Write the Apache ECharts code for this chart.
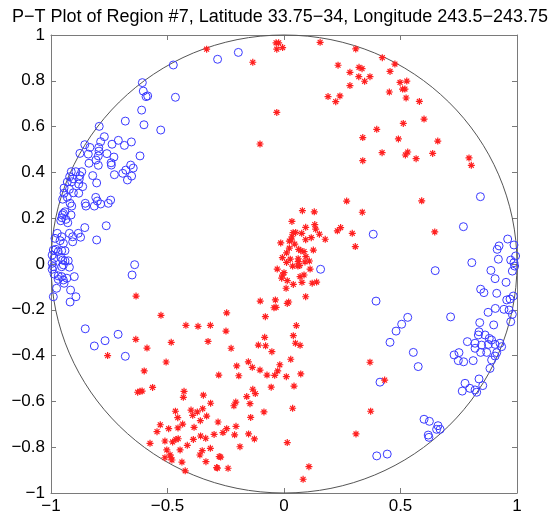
<!DOCTYPE html>
<html><head><meta charset="utf-8">
<script src="https://cdn.jsdelivr.net/npm/echarts@6/dist/echarts.min.js"></script>
<style>html,body{margin:0;padding:0;background:#fff}#c{width:560px;height:518px}</style>
</head><body><div id="c"></div>
<script>
const titleText = 'P\u2212T Plot of Region #7, Latitude 33.75\u221234, Longitude 243.5\u2212243.75';
const xTicks = [-1, -0.5, 0, 0.5, 1];
const yTicks = [-1, -0.8, -0.6, -0.4, -0.2, 0, 0.2, 0.4, 0.6, 0.8, 1];
const unitCircle = [[0, 0, 1]];

const pAxes = [
[-0.475,0.869],[-0.285,0.894],[-0.196,0.924],[-0.608,0.792],[-0.604,0.755],[-0.592,0.731],[-0.585,0.734],[-0.466,0.728],[-0.611,0.672],[-0.601,0.608],[-0.681,0.624],[-0.529,0.585],[-0.793,0.601],[-0.771,0.556],[-0.787,0.534],[-0.855,0.521],[-0.833,0.509],[-0.795,0.509],[-0.794,0.493],[-0.876,0.483],[-0.84,0.48],[-0.738,0.523],[-0.711,0.54],[-0.685,0.518],[-0.655,0.533],[-0.797,0.472],[-0.76,0.482],[-0.807,0.454],[-0.837,0.44],[-0.73,0.467],[-0.742,0.442],[-0.741,0.432],[-0.797,0.431],[-0.618,0.472],[-0.728,0.39],[-0.692,0.396],[-0.679,0.41],[-0.658,0.432],[-0.647,0.419],[-0.654,0.384],[-0.672,0.367],[-0.821,0.386],[-0.804,0.354],[-0.913,0.403],[-0.893,0.403],[-0.868,0.403],[-0.92,0.381],[-0.905,0.372],[-0.879,0.37],[-0.876,0.386],[-0.93,0.358],[-0.911,0.359],[-0.881,0.349],[-0.864,0.338],[-0.944,0.332],
[-0.921,0.326],[-0.904,0.311],[-0.881,0.309],[-0.944,0.309],[-0.95,0.283],[-0.93,0.291],[-0.918,0.265],[-0.911,0.253],[-0.85,0.253],[-0.853,0.265],[-0.814,0.253],[-0.808,0.291],[-0.801,0.275],[-0.787,0.262],[-0.754,0.265],[-0.744,0.279],[-0.947,0.221],[-0.951,0.214],[-0.94,0.228],[-0.936,0.195],[-0.958,0.189],[-0.928,0.18],[-0.914,0.214],[-0.953,0.202],[-0.855,0.159],[-0.763,0.167],[-0.973,0.134],[-0.983,0.112],[-0.961,0.102],[-0.954,0.119],[-0.921,0.134],[-0.907,0.119],[-0.883,0.134],[-0.873,0.117],[-0.907,0.097],[-0.947,0.09],[-0.804,0.105],[-0.99,0.061],[-0.979,0.064],[-0.969,0.054],[-0.954,0.058],[-0.94,0.058],[-0.995,0.039],[-0.987,0.025],[-0.958,0.029],[-0.95,0.017],[-0.94,0.014],[-0.926,0.014],[-0.995,0.003],[-0.99,-0.012],[-0.954,-0.012],[-0.947,-0.004],[-0.921,-0.014],[-0.995,-0.023],[-0.987,-0.044],[-0.969,-0.052],[-0.954,-0.055],[-0.969,-0.067],[-0.947,-0.07],[-0.944,-0.084],[-0.932,-0.062],[-0.9,-0.055],[-0.976,-0.106],[-0.916,-0.114],[-0.893,-0.143],[-0.99,-0.143],[-0.918,-0.166],[-0.641,-0.003],[-0.652,-0.048],[-0.853,-0.283],[-0.768,-0.335],[-0.712,-0.307],[-0.814,-0.358],[-0.681,-0.403],
[0.412,-0.516],[0.398,-0.838],[0.443,-0.83],[0.481,-0.293],[0.455,-0.342],[0.555,-0.386],[0.576,-0.448],[0.601,-0.678],[0.624,-0.687],[0.661,-0.706],[0.67,-0.722],[0.655,-0.722],[0.619,-0.747],[0.622,-0.757],
[0.787,-0.339],[0.73,-0.397],[0.751,-0.387],[0.748,-0.422],[0.771,-0.427],[0.812,-0.422],[0.82,-0.346],[0.82,-0.368],[0.848,-0.354],[0.844,-0.386],[0.87,-0.386],[0.877,-0.351],[0.891,-0.332],[0.906,-0.351],[0.913,-0.387],[0.927,-0.346],[0.934,-0.361],[0.834,-0.31],[0.863,-0.31],[0.881,-0.325],[0.906,-0.402],[0.891,-0.419],[0.884,-0.456],[0.837,-0.502],[0.853,-0.531],[0.777,-0.521],[0.765,-0.555],[0.798,-0.543],[0.82,-0.55],[0.827,-0.56],
[0.843,0.294],[0.383,0.13],[0.77,0.163],[0.96,0.109],[0.987,0.083],[0.923,0.079],[0.915,0.064],[0.994,0.035],[0.973,0.017],[0.987,0.006],[0.99,-0.009],[0.98,-0.031],[0.92,0.021],[0.806,0.006],[0.649,-0.029],[0.888,-0.028],[0.906,-0.064],[0.953,-0.08],[0.844,-0.11],[0.858,-0.125],[0.913,-0.128],[0.984,-0.14],[0.97,-0.153],[0.956,-0.157],[0.395,-0.162],[0.715,-0.231],[0.531,-0.233],[0.505,-0.263],[0.907,-0.194],[0.876,-0.211],[0.944,-0.198],[0.966,-0.201],[0.98,-0.22],[0.973,-0.252],[0.84,-0.256],[0.9,-0.266],[0.837,-0.296],[0.157,-0.023]
];

const tAxes = [
[-0.332,0.938],[-0.635,-0.14],[-0.528,-0.224],[-0.421,-0.268],[-0.369,-0.272],[-0.316,-0.268],[-0.636,-0.329],[-0.588,-0.367],[-0.484,-0.342],[-0.326,-0.338],[-0.757,-0.4],[-0.506,-0.428],[-0.6,-0.467],[-0.564,-0.539],[-0.628,-0.56],[-0.618,-0.556],[-0.609,-0.555],[-0.429,-0.556],[-0.432,-0.582],[-0.346,-0.573],[-0.315,-0.608],[-0.28,-0.485],[-0.466,-0.643],[-0.399,-0.638],[-0.372,-0.646],[-0.349,-0.632],[-0.392,-0.661],[-0.456,-0.671],[-0.359,-0.684],[-0.332,-0.664],[-0.531,-0.702],[-0.435,-0.699],[-0.495,-0.719],[-0.455,-0.716],[-0.386,-0.713],[-0.545,-0.732],[-0.283,-0.69],[-0.511,-0.773],[-0.478,-0.777],[-0.464,-0.766],[-0.454,-0.763],[-0.575,-0.783],[-0.415,-0.792],[-0.389,-0.766],[-0.358,-0.751],[-0.336,-0.761],[-0.3,-0.744],[-0.503,-0.812],[-0.489,-0.833],[-0.485,-0.846],[-0.481,-0.856],[-0.511,-0.846],[-0.446,-0.812],[-0.438,-0.865],[-0.424,-0.903],[-0.361,-0.834],[-0.351,-0.815],[-0.335,-0.863],[-0.316,-0.805],[-0.289,-0.889],[-0.278,-0.841],
[-0.249,-0.293],[-0.227,-0.368],[-0.083,-0.32],[-0.11,-0.354],[-0.079,-0.357],[-0.052,-0.383],[0.04,-0.313],[0.049,-0.346],[0.069,-0.355],[0.029,-0.416],[0.072,-0.48],[0.043,-0.533],[0.037,-0.63],[0.014,-0.78],[0.107,-0.885],[0.082,-0.94],[-0.153,-0.427],[-0.203,-0.445],[-0.136,-0.451],[-0.103,-0.463],[-0.018,-0.44],[-0.027,-0.467],[-0.073,-0.485],[-0.04,-0.486],[0.01,-0.492],[-0.194,-0.488],[-0.055,-0.538],[-0.134,-0.547],[-0.123,-0.566],[-0.16,-0.579],[-0.207,-0.603],[-0.215,-0.619],[-0.146,-0.61],[-0.086,-0.646],[-0.143,-0.67],[-0.246,-0.719],[-0.206,-0.709],[-0.262,-0.736],[-0.212,-0.746],[-0.152,-0.742],[-0.127,-0.764],[-0.189,-0.798],[-0.272,-0.843],[-0.286,-0.891],[-0.24,-0.892],
[0.369,-0.429],[0.372,-0.643],[0.309,-0.742],[0.432,-0.507],[0.591,0.276],[0.336,0.226],[0.647,0.14],
[0.269,0.275],[0.079,0.233],[0.13,0.228],[0.034,0.186],[0.093,0.16],[0.132,0.172],[0.136,0.152],[0.152,0.13],[0.177,0.108],[0.229,0.145],[0.243,0.159],[0.293,0.134],[0.306,0.076],[0.039,0.137],[0.05,0.138],[0.076,0.134],[0.034,0.119],[0.031,0.105],[0.023,0.1],[0.046,0.087],[0.093,0.106],[0.117,0.115],[-0.014,0.092],[0.023,0.069],[0.063,0.064],[0.072,0.058],[0.086,0.054],[0.126,0.061],[0.011,0.049],[-0.007,0.028],[0.027,0.021],[0.061,0.023],[0.094,0.032],[0.011,0.007],[0.061,0.01],[0.09,0.009],[0.109,0.013],[0.037,-0.009],[0.06,-0.009],[0.067,-0.007],[-0.029,-0.022],[0.0,-0.038],[-0.006,-0.049],[0.112,-0.022],[-0.01,-0.062],[0.014,-0.073],[0.069,-0.055],[0.086,-0.048],[0.077,-0.08],[0.04,-0.089],[0.121,-0.084],[0.14,-0.079],[0.009,-0.106],[0.093,-0.143],[-0.102,-0.162],[-0.037,-0.157],[0.014,-0.172],[0.02,-0.166],[-0.043,-0.191],[-0.034,-0.189],[-0.246,-0.213],[-0.08,-0.23],[0.053,-0.269],
[-0.034,0.966],[-0.023,0.966],[-0.031,0.938],[-0.006,0.945],[0.155,0.968],[0.308,0.939],[-0.134,0.881],[0.232,0.868],[0.283,0.837],[0.322,0.859],[0.335,0.853],[0.321,0.818],[0.369,0.818],[0.346,0.798],[0.283,0.779],[0.189,0.731],[0.24,0.734],[0.222,0.709],[-0.031,0.662],[-0.103,0.524],[0.398,0.588],[0.338,0.552],[0.338,0.451],
[0.422,0.901],[0.476,0.873],[0.455,0.841],[0.498,0.793],[0.527,0.799],[0.452,0.751],[0.509,0.764],[0.519,0.764],[0.524,0.725],[0.581,0.71],[0.601,0.633],[0.512,0.614],[0.491,0.546],[0.66,0.537],[0.421,0.486],[0.531,0.489],[0.521,0.476],[0.567,0.46],[0.638,0.483],[0.794,0.463],[0.804,0.431]
];

const FONT = '"Liberation Sans", Arial, Helvetica, sans-serif';
const fmt = v => String(+(+v).toFixed(2)).replace('-', '\u2212');
const frame = '#7a7a7a';
function axisCommon(ticks, pos, showLabel, isX) {
  return {
    type: 'value', min: ticks[0], max: ticks[ticks.length - 1],
    interval: ticks[1] - ticks[0], position: pos,
    axisLine: { show: true, onZero: false, lineStyle: { color: frame, width: 1 } },
    axisTick: { show: true, inside: true, length: 5, lineStyle: { color: frame } },
    splitLine: { show: false },
    axisLabel: { show: showLabel, color: '#000', fontSize: 17, fontFamily: FONT,
      margin: isX ? 5 : 6, formatter: fmt }
  };
}
const chart = echarts.init(document.getElementById('c'), null, { renderer: 'canvas' });
chart.setOption({
  animation: false,
  backgroundColor: '#fff',
  title: { text: titleText, left: 'center', top: 3,
    textStyle: { fontFamily: FONT, fontSize: 18, fontWeight: 'normal', color: '#000' } },
  grid: { left: 51, right: 43, top: 35, bottom: 25 },
  xAxis: [axisCommon(xTicks, 'bottom', true, true), axisCommon(xTicks, 'top', false, true)],
  yAxis: [axisCommon(yTicks, 'left', true, false), axisCommon(yTicks, 'right', false, false)],
  series: [
    { type: 'custom', data: unitCircle, clip: false, z: 1, silent: true,
      renderItem: function (params, api) {
        const c = api.coord([api.value(0), api.value(1)]);
        const s = api.size([api.value(2), api.value(2)]);
        return { type: 'ellipse', shape: { cx: c[0], cy: c[1], rx: s[0], ry: s[1] },
          style: { fill: 'none', stroke: '#555', lineWidth: 1 } };
      } },
    { type: 'scatter', data: pAxes, symbol: 'circle', symbolSize: 8, z: 3,
      itemStyle: { color: 'rgba(0,0,0,0)', borderColor: '#3a3aff', borderWidth: 1, opacity: 1 } },
    { type: 'scatter', data: tAxes, z: 4,
      symbol: 'path://M5,0L5,10M0,5L10,5M1.5,1.5L8.5,8.5M1.5,8.5L8.5,1.5', symbolSize: 7, symbolKeepAspect: true,
      itemStyle: { color: 'rgba(0,0,0,0)', borderColor: '#ff2020', borderWidth: 1.2, opacity: 1 } }
  ]
});
</script></body></html>
